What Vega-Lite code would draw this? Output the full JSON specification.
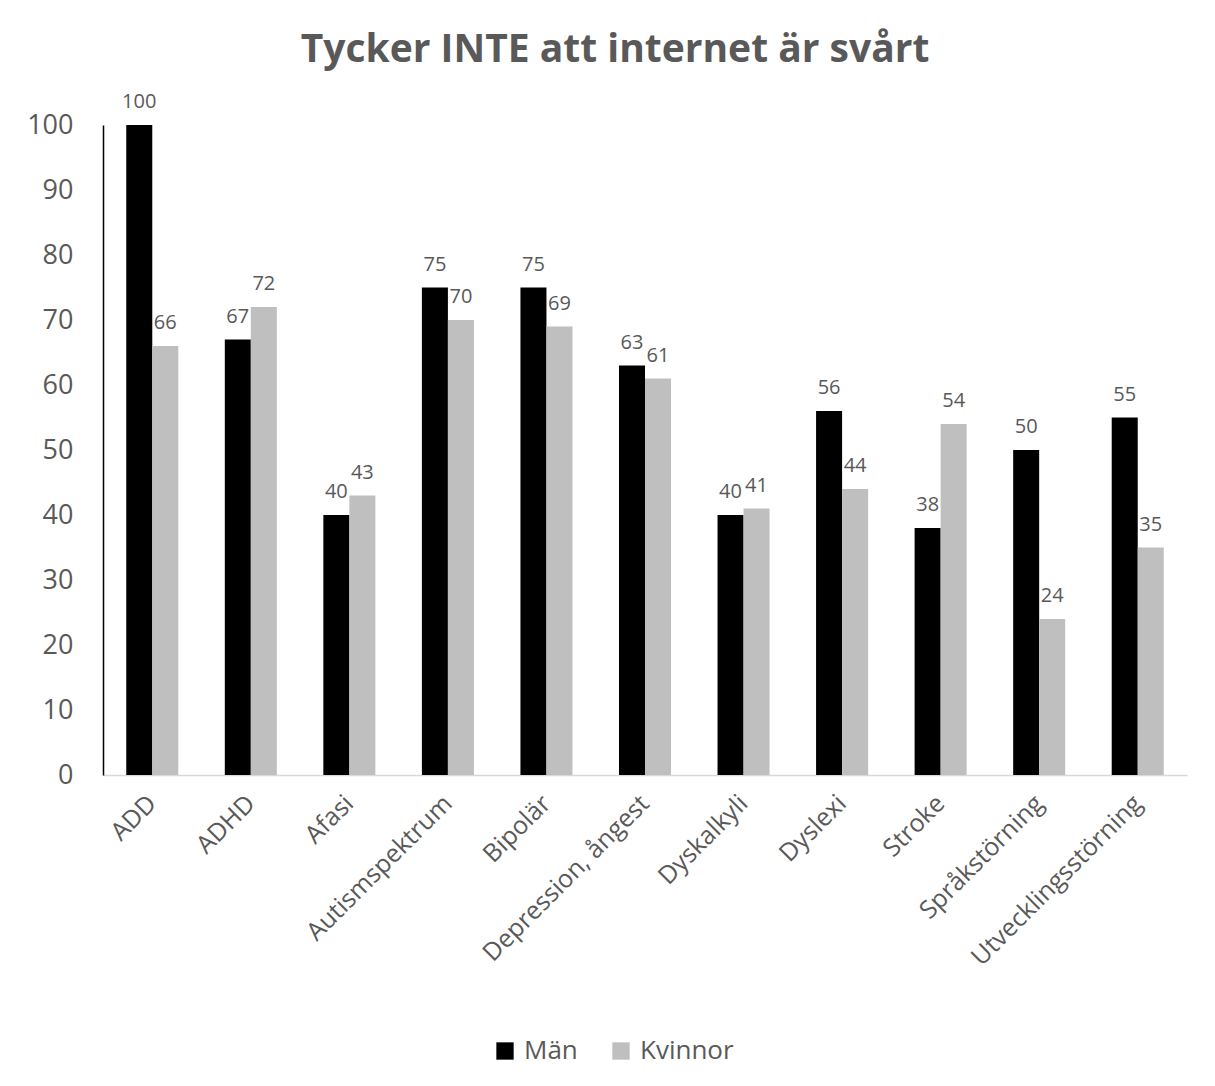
{
  "$schema": "https://vega.github.io/schema/vega-lite/v6.json",
  "width": 1084,
  "height": 650,
  "autosize": {"type": "none"},
  "padding": {"left": 103, "top": 125, "right": 28, "bottom": 311},
  "background": "white",
  "title": {
    "text": "Tycker INTE att internet är svårt",
    "font": "Open Sans",
    "fontSize": 39,
    "fontWeight": "bold",
    "color": "#595959",
    "anchor": "middle",
    "dx": -30,
    "offset": 22
  },
  "data": {
    "values": [
      {"diagnos": "ADD", "kon": "Män", "varde": 100},
      {"diagnos": "ADD", "kon": "Kvinnor", "varde": 66},
      {"diagnos": "ADHD", "kon": "Män", "varde": 67},
      {"diagnos": "ADHD", "kon": "Kvinnor", "varde": 72},
      {"diagnos": "Afasi", "kon": "Män", "varde": 40},
      {"diagnos": "Afasi", "kon": "Kvinnor", "varde": 43},
      {"diagnos": "Autismspektrum", "kon": "Män", "varde": 75},
      {"diagnos": "Autismspektrum", "kon": "Kvinnor", "varde": 70},
      {"diagnos": "Bipolär", "kon": "Män", "varde": 75},
      {"diagnos": "Bipolär", "kon": "Kvinnor", "varde": 69},
      {"diagnos": "Depression, ångest", "kon": "Män", "varde": 63},
      {"diagnos": "Depression, ångest", "kon": "Kvinnor", "varde": 61},
      {"diagnos": "Dyskalkyli", "kon": "Män", "varde": 40},
      {"diagnos": "Dyskalkyli", "kon": "Kvinnor", "varde": 41},
      {"diagnos": "Dyslexi", "kon": "Män", "varde": 56},
      {"diagnos": "Dyslexi", "kon": "Kvinnor", "varde": 44},
      {"diagnos": "Stroke", "kon": "Män", "varde": 38},
      {"diagnos": "Stroke", "kon": "Kvinnor", "varde": 54},
      {"diagnos": "Språkstörning", "kon": "Män", "varde": 50},
      {"diagnos": "Språkstörning", "kon": "Kvinnor", "varde": 24},
      {"diagnos": "Utvecklingsstörning", "kon": "Män", "varde": 55},
      {"diagnos": "Utvecklingsstörning", "kon": "Kvinnor", "varde": 35}
    ]
  },
  "encoding": {
    "x": {
      "field": "diagnos",
      "type": "nominal",
      "sort": null,
      "scale": {"paddingInner": 0.472, "paddingOuter": 0.236},
      "axis": {
        "title": null,
        "labelAngle": -45,
        "labelAlign": "right",
        "labelBaseline": "middle",
        "labelFont": "Open Sans",
        "labelFontSize": 25,
        "labelColor": "#595959",
        "labelPadding": 24,
        "labelLimit": 0,
        "labelOverlap": false,
        "ticks": false,
        "domainColor": "#d9d9d9",
        "domainWidth": 1.5
      }
    },
    "xOffset": {"field": "kon", "type": "nominal", "sort": ["Män", "Kvinnor"]},
    "y": {
      "field": "varde",
      "type": "quantitative",
      "scale": {"domain": [0, 100], "nice": false},
      "axis": {
        "title": null,
        "values": [0, 10, 20, 30, 40, 50, 60, 70, 80, 90, 100],
        "grid": false,
        "ticks": false,
        "labelFont": "Open Sans",
        "labelFontSize": 27,
        "labelColor": "#595959",
        "labelPadding": 30,
        "domainColor": "#000000",
        "domainWidth": 1.5
      }
    }
  },
  "layer": [
    {
      "mark": {"type": "bar"},
      "encoding": {
        "color": {
          "field": "kon",
          "type": "nominal",
          "sort": ["Män", "Kvinnor"],
          "scale": {"domain": ["Män", "Kvinnor"], "range": ["#000000", "#bfbfbf"]},
          "legend": {
            "title": null,
            "orient": "none",
            "direction": "horizontal",
            "legendX": 389,
            "legendY": 913,
            "symbolType": "square",
            "symbolSize": 300,
            "symbolStrokeWidth": 0,
            "labelFont": "Open Sans",
            "labelFontSize": 26,
            "labelColor": "#595959",
            "labelOffset": 6,
            "columnPadding": 30
          }
        }
      }
    },
    {
      "mark": {
        "type": "text",
        "baseline": "bottom",
        "dy": -13,
        "font": "Open Sans",
        "fontSize": 20,
        "color": "#595959"
      },
      "encoding": {"text": {"field": "varde", "type": "quantitative"}}
    }
  ],
  "config": {"view": {"stroke": null}}
}
